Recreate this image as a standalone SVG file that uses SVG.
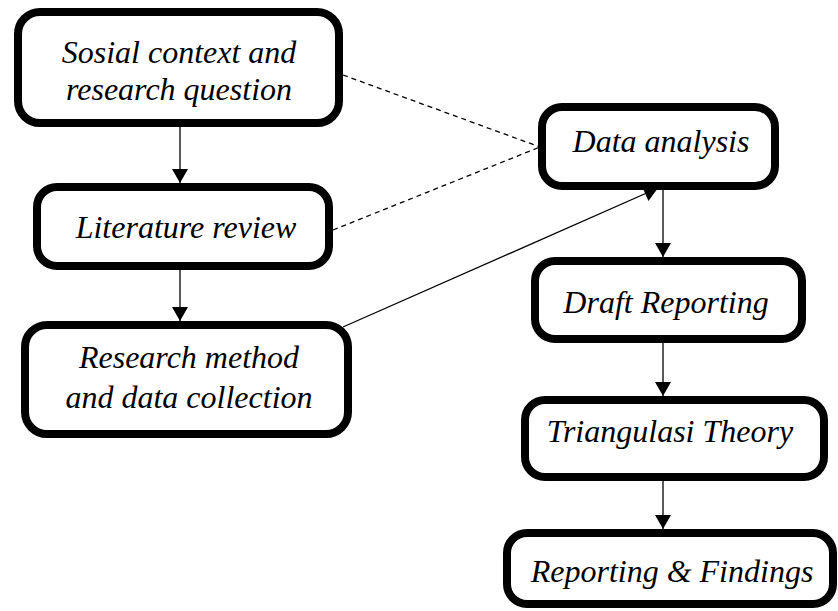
<svg xmlns="http://www.w3.org/2000/svg" width="838" height="611" viewBox="0 0 838 611">
<defs>
<marker id="ah" markerUnits="userSpaceOnUse" markerWidth="16" markerHeight="16" viewBox="0 0 14 16" refX="14" refY="8" orient="auto">
<path d="M0,0 L14,8 L0,16 Z" fill="#000"/>
</marker>
</defs>
<style>
.box{fill:#fff;stroke:#000;stroke-width:8}
.t{font-family:"Liberation Serif","Times New Roman",serif;font-style:italic;font-size:32px;fill:#000;text-anchor:middle}
.c{stroke:#000;stroke-width:1.3;fill:none}
.d{stroke:#000;stroke-width:1.3;fill:none;stroke-dasharray:5 4}
</style>
<rect width="838" height="611" fill="#fff"/>
<g id="connectors">
<line class="c" x1="180" y1="127" x2="180" y2="183" marker-end="url(#ah)"/>
<line class="c" x1="180" y1="270" x2="180" y2="321" marker-end="url(#ah)"/>
<line class="c" x1="663" y1="190" x2="663" y2="257" marker-end="url(#ah)"/>
<line class="c" x1="663" y1="343" x2="663" y2="396" marker-end="url(#ah)"/>
<line class="c" x1="663" y1="481" x2="663" y2="529" marker-end="url(#ah)"/>
<line class="c" x1="343" y1="327" x2="658" y2="188" marker-end="url(#ah)"/>
<line class="d" x1="343" y1="75" x2="540" y2="147"/>
<line class="d" x1="333" y1="230" x2="540" y2="147"/>
</g>
<g id="n1">
<rect class="box" x="18" y="12" width="321" height="111" rx="22"/>
<text class="t" x="179" y="63">Sosial context and</text>
<text class="t" x="179" y="100">research question</text>
</g>
<g id="n2">
<rect class="box" x="37" y="187" width="292" height="79" rx="20"/>
<text class="t" x="186" y="238">Literature review</text>
</g>
<g id="n3">
<rect class="box" x="25" y="325" width="323" height="109" rx="22"/>
<text class="t" x="189" y="368">Research method</text>
<text class="t" x="189" y="408">and data collection</text>
</g>
<g id="n4">
<rect class="box" x="542" y="107" width="233" height="79" rx="20"/>
<text class="t" x="661" y="152">Data analysis</text>
</g>
<g id="n5">
<rect class="box" x="535" y="261" width="267" height="78" rx="20"/>
<text class="t" x="666" y="313">Draft Reporting</text>
</g>
<g id="n6">
<rect class="box" x="525" y="400" width="299" height="77" rx="20"/>
<text class="t" x="670" y="442">Triangulasi Theory</text>
</g>
<g id="n7">
<rect class="box" x="507" y="533" width="326" height="71" rx="20"/>
<text class="t" x="672" y="582">Reporting &amp; Findings</text>
</g>
</svg>
